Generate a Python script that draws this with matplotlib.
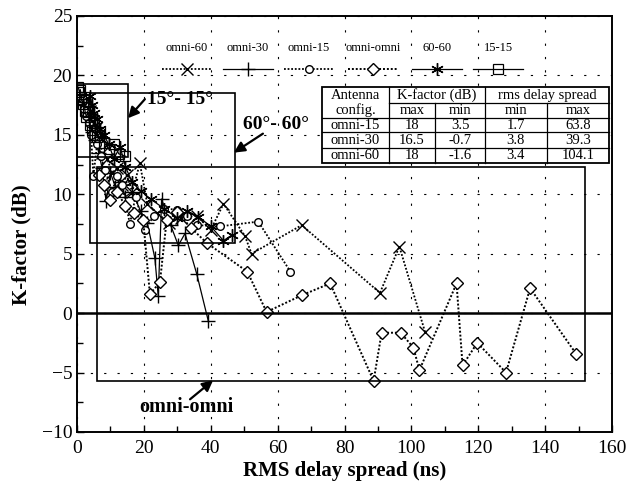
import numpy as np
import matplotlib.pyplot as plt
from matplotlib.patches import Rectangle
from matplotlib.offsetbox import VPacker

plt.rcParams['font.family'] = ['Liberation Serif', 'DejaVu Serif']

# ---- data ----
omni60_x = [3.4, 4.0, 4.8, 5.6, 6.5, 7.5, 9.0, 10.5, 12.0, 13.5, 14.9, 16.5, 18.8, 21.0,
            24.0, 27.5, 31.0, 35.8, 40.0, 43.8, 50.2, 52.2, 67.2, 90.6, 96.4, 104.1]
omni60_y = [18.0, 17.0, 16.2, 15.6, 14.8, 13.5, 13.0, 11.8, 12.2, 10.8, 11.6, 10.2, 12.6, 9.2,
            8.4, 7.6, 8.0, 8.2, 7.0, 9.2, 6.5, 5.0, 7.4, 1.7, 5.6, -1.6]

omni30_x = [3.8, 4.5, 5.5, 6.5, 7.5, 8.7, 10.0, 11.5, 13.0, 14.5, 16.5, 19.0, 21.0,
            23.3, 24.3, 25.3, 28.0, 30.3, 32.3, 35.8, 39.3]
omni30_y = [16.5, 15.2, 14.6, 13.5, 12.2, 9.4, 11.8, 10.6, 11.0, 9.8, 10.2, 8.6, 7.6,
            4.6, 1.4, 9.6, 7.4, 5.7, 6.7, 3.3, -0.7]

omni15_x = [1.7, 2.2, 2.8, 3.5, 4.2, 4.9, 6.0, 7.2, 8.5, 10.4, 12.0, 13.5, 15.8, 17.5,
            20.3, 23.0, 26.0, 29.8, 33.0, 36.0, 42.8, 54.2, 63.8]
omni15_y = [18.0, 17.2, 16.6, 16.0, 15.0, 11.5, 14.2, 13.2, 12.0, 10.2, 11.5, 10.8, 7.5, 9.8,
            7.0, 8.2, 8.8, 8.7, 8.2, 7.4, 7.3, 7.7, 3.5]

omniomni_x = [6.5, 8.0, 10.0, 12.0, 14.5, 17.0, 19.8, 21.8, 24.8, 26.8, 30.0, 34.0, 38.8,
              50.9, 56.7, 67.2, 75.7, 88.7, 91.1, 96.8, 100.6, 102.4, 113.5, 115.3,
              119.7, 128.3, 135.5, 149.2]
omniomni_y = [11.6, 10.8, 9.5, 10.2, 9.0, 8.4, 7.8, 1.6, 2.6, 7.8, 8.5, 7.2, 5.9,
              3.5, 0.1, 1.5, 2.5, -5.7, -1.65, -1.65, -2.9, -4.8, 2.5, -4.4,
              -2.5, -5.0, 2.1, -3.4]

s6060_x = [3.9, 4.5, 5.2, 6.0, 7.0, 8.0, 9.5, 11.0, 12.9, 14.5, 16.5, 19.0, 22.0, 26.0,
           30.0, 33.0, 36.3, 40.0, 43.8, 46.5]
s6060_y = [18.3, 17.5, 16.8, 16.3, 15.5, 15.0, 14.2, 13.0, 14.0, 12.3, 11.0, 10.3, 9.6, 8.8,
           8.0, 8.6, 8.1, 7.3, 6.1, 6.6]

s1515_x = [0.4, 0.7, 1.0, 1.3, 1.7, 2.0, 2.4, 2.8, 3.3, 3.8, 4.5, 5.2, 6.0, 7.0, 8.2,
           9.5, 11.0, 12.5, 14.5]
s1515_y = [19.0, 18.6, 18.8, 18.0, 17.6, 18.2, 17.0, 16.5, 16.9, 15.8, 15.4, 16.0, 14.8,
           15.2, 14.3, 13.8, 14.2, 13.4, 13.2]

# range boxes (x0, x1, y0, y1)
box_1515 = [-0.3, 15.3, 13.1, 19.3]
box_6060 = [3.9, 47.3, 5.9, 18.5]
box_omni = [6.1, 152.0, -5.75, 12.3]

# table contents
table_rows = ['omni-15', 'omni-30', 'omni-60']
k_max = ['18', '16.5', '18']
k_min = ['3.5', '-0.7', '-1.6']
d_min = ['1.7', '3.8', '3.4']
d_max = ['63.8', '39.3', '104.1']

fig = plt.figure(figsize=(6.38, 4.9), dpi=100)
ax = fig.add_axes([0.1207, 0.1184, 0.8386, 0.849])

dots = (0, (1, 1))
ax.plot(omni60_x, omni60_y, color='k', ls=dots, lw=1.3, marker='x', ms=9, mew=1.0,
        label='omni-60')
ax.plot(omni30_x, omni30_y, color='k', ls='-', lw=0.9, marker='+', ms=10, mew=1.0,
        label='omni-30')
ax.plot(omni15_x, omni15_y, color='k', ls=dots, lw=1.3, marker='o', ms=5.5, mew=1.0,
        mfc='white', label='omni-15')
ax.plot(omniomni_x, omniomni_y, color='k', ls=dots, lw=1.4, marker='D', ms=6.5, mew=1.0,
        mfc='white', label='omni-omni')
ax.plot(s6060_x, s6060_y, color='k', ls='-', lw=0.9, marker=(6, 2, 0), ms=9, mew=1.0,
        label='60-60')
ax.plot(s1515_x, s1515_y, color='k', ls='-', lw=0.9, marker='s', ms=6.5, mew=0.9,
        mfc='none', label='15-15')

for b in (box_1515, box_6060, box_omni):
    ax.add_patch(Rectangle((b[0], b[2]), b[1] - b[0], b[3] - b[2], fill=False,
                           ec='k', lw=1.2, zorder=4))

ax.axhline(0, color='k', lw=1.8, zorder=3)

ax.set_xlim(0, 160)
ax.set_ylim(-10, 25)
ax.set_xticks(np.arange(0, 161, 20))
ax.set_yticks(np.arange(-10, 26, 5))
ax.set_xticks(np.arange(0, 161, 10), minor=True)
ax.set_yticks(np.arange(-10, 26, 2.5), minor=True)
ax.tick_params(which='both', direction='in', labelsize=14, width=1)
ax.tick_params(which='major', length=5)
ax.tick_params(which='minor', length=4)
ax.tick_params(axis='x', pad=6)
ax.grid(True, which='major', color='k', ls=(0, (2, 10)), lw=0.8)
for sp in ax.spines.values():
    sp.set_linewidth(1.4)

ax.set_xlabel('RMS delay spread (ns)', fontsize=15, fontweight='bold')
ax.set_ylabel('K-factor (dB)', fontsize=15, fontweight='bold')
ax.xaxis.set_label_coords(0.5, -0.07)
ax.yaxis.set_label_coords(-0.085, 0.45)

# annotations
arrow = dict(arrowstyle='-|>', color='k', lw=1.6, mutation_scale=16, shrinkA=0, shrinkB=0)
ax.text(30.9, 18.0, '15°- 15°', ha='center', va='center', fontsize=14, fontweight='bold',
        zorder=6)
ax.annotate('', xy=(15.25, 16.4), xytext=(20.3, 18.0), arrowprops=arrow, zorder=6)
ax.text(59.5, 15.9, '60°- 60°', ha='center', va='center', fontsize=14, fontweight='bold',
        zorder=6)
ax.annotate('', xy=(46.9, 13.5), xytext=(55.6, 15.1), arrowprops=arrow, zorder=6)
ax.text(32.7, -7.9, 'omni-omni', ha='center', va='center', fontsize=14.5, fontweight='bold',
        zorder=6)
ax.annotate('', xy=(40.7, -5.65), xytext=(33.8, -7.25), arrowprops=arrow, zorder=6)

# table
cx = [73.3, 93.2, 107.1, 122.0, 140.5, 159.1]
ry = [19.0, 17.7, 16.4, 15.2, 13.9, 12.6]
tz = 8
ax.add_patch(Rectangle((cx[0], ry[-1]), cx[-1] - cx[0], ry[0] - ry[-1], fc='white',
                       ec='k', lw=1.3, zorder=tz))
kw = dict(color='k', lw=0.9, zorder=tz + 1)
for y in ry[2:-1]:
    ax.plot([cx[0], cx[-1]], [y, y], **kw)
ax.plot([cx[1], cx[-1]], [ry[1], ry[1]], **kw)
for x in (cx[1], cx[3]):
    ax.plot([x, x], [ry[0], ry[-1]], **kw)
for x in (cx[2], cx[4]):
    ax.plot([x, x], [ry[1], ry[-1]], **kw)

tkw = dict(ha='center', va='center', fontsize=10.5, zorder=tz + 2)
ax.text((cx[0] + cx[1]) / 2, (ry[0] + ry[1]) / 2, 'Antenna', **tkw)
ax.text((cx[0] + cx[1]) / 2, (ry[1] + ry[2]) / 2, 'config.', **tkw)
ax.text((cx[1] + cx[3]) / 2, (ry[0] + ry[1]) / 2, 'K-factor (dB)', **tkw)
ax.text((cx[3] + cx[5]) / 2, (ry[0] + ry[1]) / 2, 'rms delay spread', **tkw)
for j, h in enumerate(['max', 'min', 'min', 'max']):
    ax.text((cx[j + 1] + cx[j + 2]) / 2, (ry[1] + ry[2]) / 2, h, **tkw)
for i, name in enumerate(table_rows):
    yc = (ry[i + 2] + ry[i + 3]) / 2
    vals = [name, k_max[i], k_min[i], d_min[i], d_max[i]]
    for j, v in enumerate(vals):
        ax.text((cx[j] + cx[j + 1]) / 2, yc, v, **tkw)

# legend with labels above the line samples
leg = ax.legend(ncol=6, loc='center', bbox_to_anchor=(0.496, 0.90), frameon=False,
                fontsize=9, handlelength=4.0, columnspacing=0.9, handletextpad=0.9,
                borderpad=0)
for col in leg._legend_handle_box.get_children():
    for item in col.get_children():
        h, t = item.get_children()
        item.__class__ = VPacker
        item._children = [t, h]
        item.align = 'center'
leg.set_zorder(7)

fig.savefig('out.png', dpi=100)
